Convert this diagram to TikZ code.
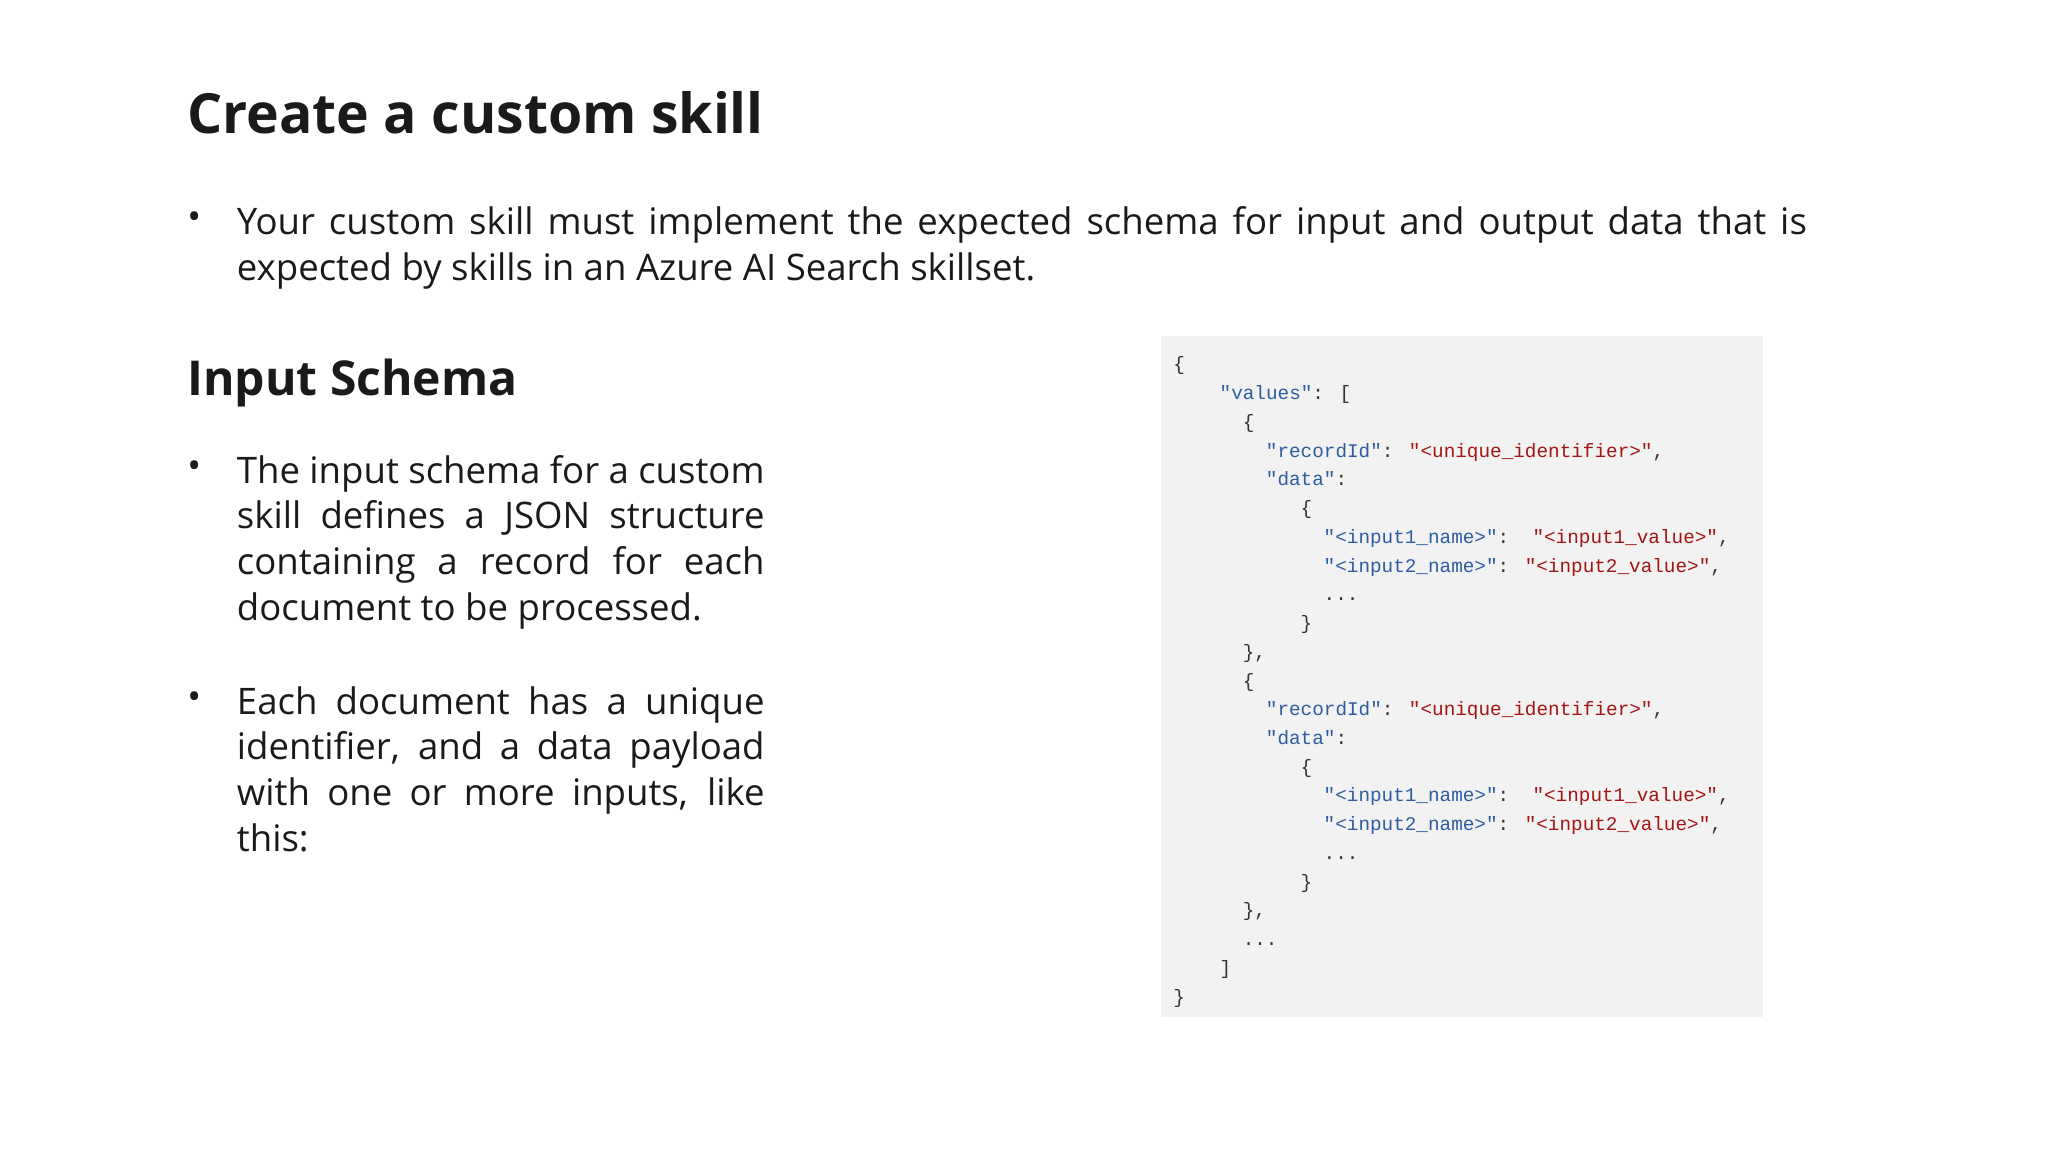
\documentclass[tikz,border=0pt]{standalone}
\usepackage{fontspec}
\setmainfont{Open Sans}
\newfontfamily\codefont{Liberation Mono}
\definecolor{keyc}{HTML}{2E5C9E}
\definecolor{strc}{HTML}{A31515}
\definecolor{punc}{HTML}{333333}
\definecolor{codebg}{HTML}{F2F2F2}
\definecolor{txt}{HTML}{1A1A1A}
\newcommand{\K}[1]{\textcolor{keyc}{#1}}
\newcommand{\Sv}[1]{\textcolor{strc}{#1}}
\newcommand{\nohy}{\hyphenpenalty=10000\exhyphenpenalty=10000}
\begin{document}
\begin{tikzpicture}[x=0.5pt,y=-0.5pt,
  body/.style={anchor=north west,inner sep=0pt,text=txt,font=\fontsize{14}{17.5}\selectfont\nohy,align=justify},
  bul/.style={anchor=north west,inner sep=0pt,text=txt,font=\fontsize{14}{17.5}\selectfont},
  code/.style={anchor=base west,inner sep=0pt,text=punc,font=\codefont\fontsize{7.4}{9}\selectfont}]
\useasboundingbox (0,0) rectangle (1568,882);
\node[anchor=base west,inner sep=0pt,text=txt,font=\bfseries\fontsize{21.2}{26}\selectfont] (title) at (143,102) {Create a custom skill};
\node[bul] (b1) at (143,162) {•};
\node[body,text width=601pt] (p1) at (181,158) {Your custom skill must implement the expected schema for input and output data that is expected by skills in an Azure AI Search skillset.};
\node[anchor=base west,inner sep=0pt,text=txt,font=\bfseries\fontsize{18.4}{22}\selectfont] (h2) at (143,303) {Input Schema};
\node[bul] (b2) at (143,352) {•};
\node[body,text width=202pt] (p2) at (181,348) {The input schema for a custom skill defines a JSON structure containing a record for each document to be processed.};
\node[bul] (b3) at (143,529) {•};
\node[body,text width=202pt] (p3) at (181,525) {Each document has a unique identifier, and a data payload with one or more inputs, like this:};
\fill[codebg] (889,257) rectangle (1350,779);
\foreach \i/\n/\t in {
 0/0/\{,
 1/4/{\K{"values"}: [},
 2/6/\{,
 3/8/{\K{"recordId"}: \Sv{"<unique\_identifier>"},},
 4/8/{\K{"data"}:},
 5/11/\{,
 6/13/{\K{"<input1\_name>"}:\ \ \Sv{"<input1\_value>"},},
 7/13/{\K{"<input2\_name>"}: \Sv{"<input2\_value>"},},
 8/13/{...},
 9/11/\},
 10/6/{\},},
 11/6/\{,
 12/8/{\K{"recordId"}: \Sv{"<unique\_identifier>"},},
 13/8/{\K{"data"}:},
 14/11/\{,
 15/13/{\K{"<input1\_name>"}:\ \ \Sv{"<input1\_value>"},},
 16/13/{\K{"<input2\_name>"}: \Sv{"<input2\_value>"},},
 17/13/{...},
 18/11/\},
 19/6/{\},},
 20/6/{...},
 21/4/{]},
 22/0/\}}
 \node[code] (c\i) at ({898+8.85*\n},{284+22*\i}) {\t};
\end{tikzpicture}
\end{document}
